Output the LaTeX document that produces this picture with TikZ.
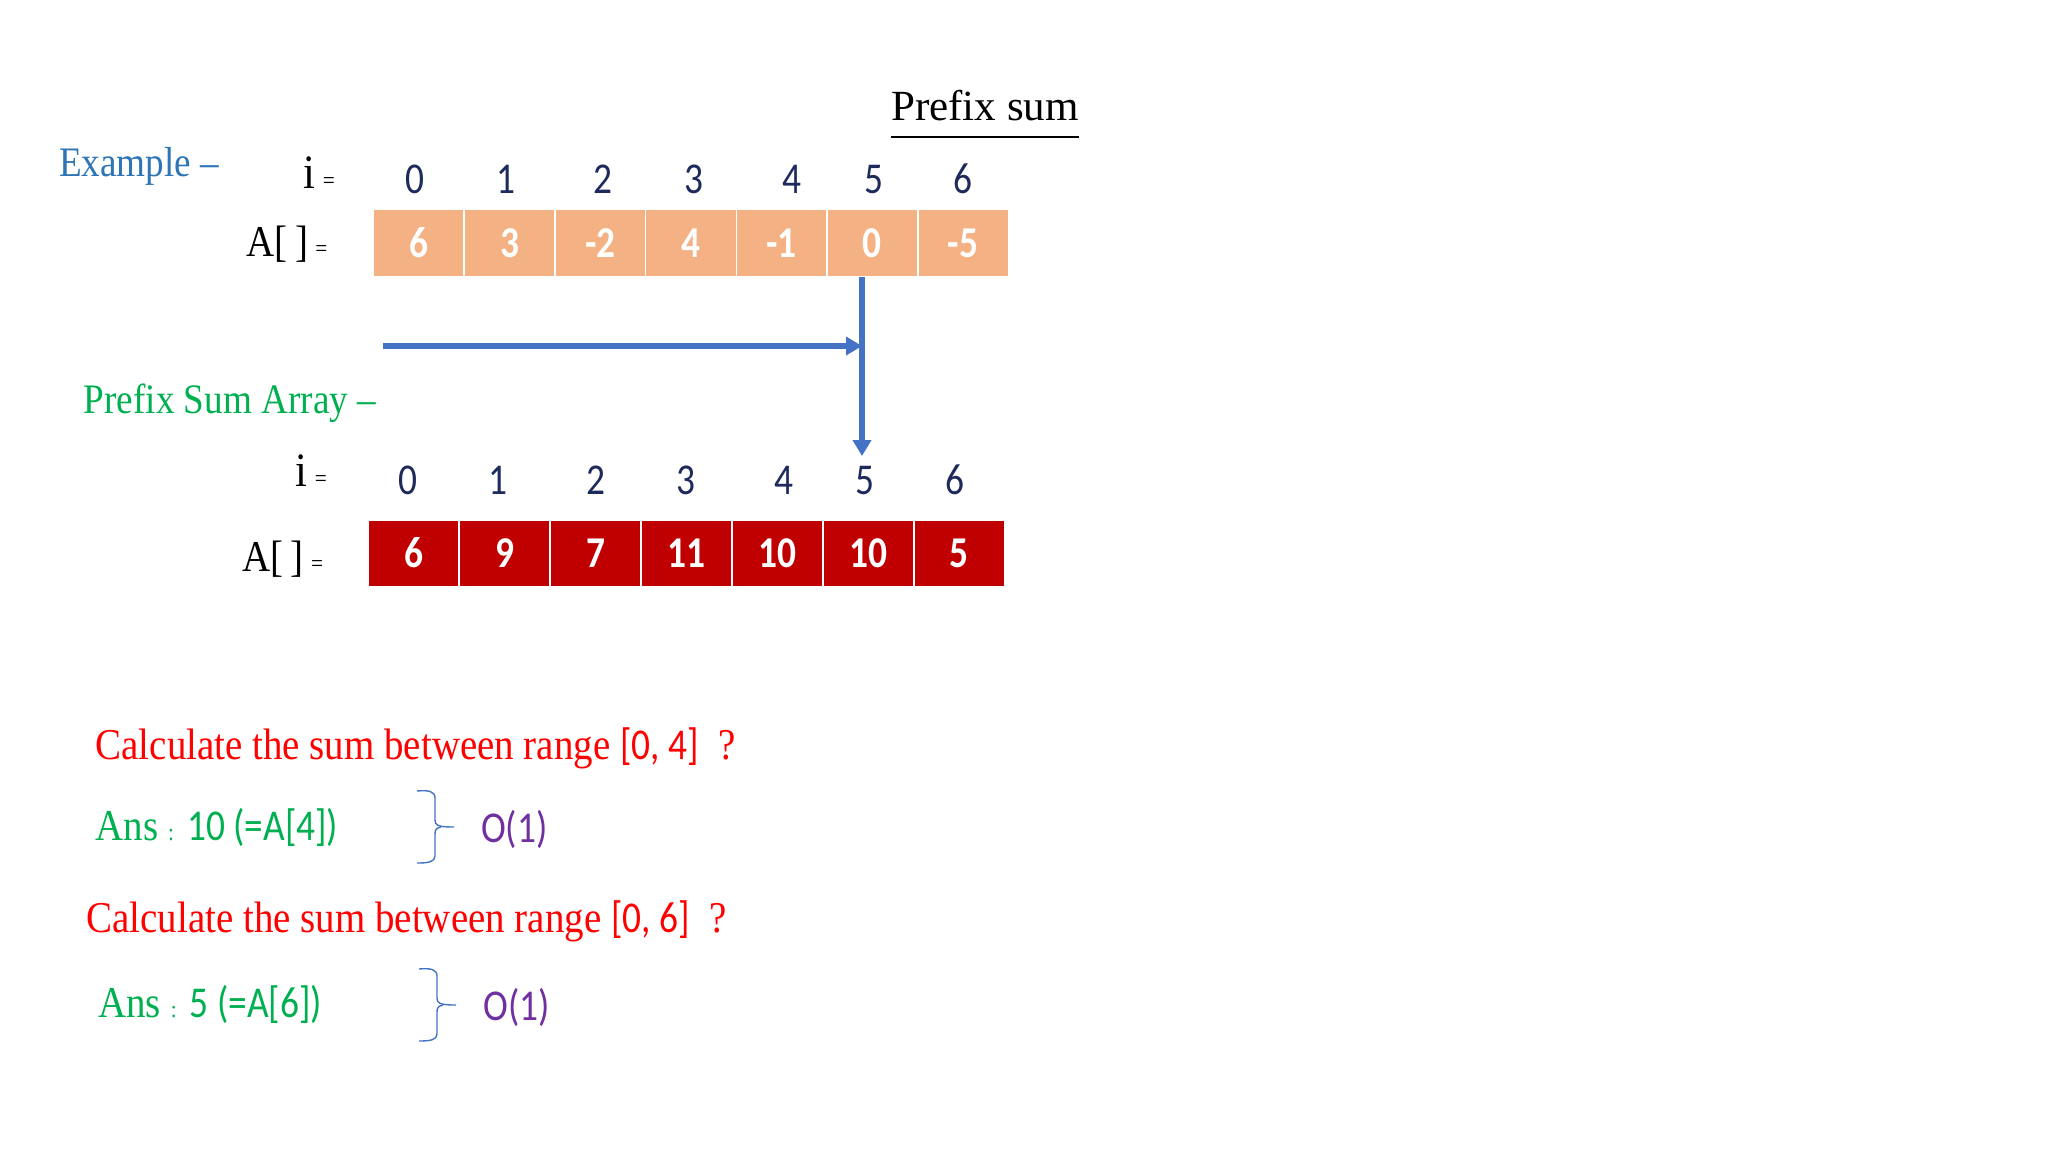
\documentclass[tikz,border=0pt]{standalone}
\usepackage{fontspec}
\setmainfont{Liberation Serif}[FakeStretch=0.885]
\newfontfamily\plainserif{Liberation Serif}
\newfontfamily\calib{Carlito}[FakeStretch=0.85]
\usetikzlibrary{arrows.meta}
\definecolor{exblue}{HTML}{2E75B6}
\definecolor{psgreen}{HTML}{00B050}
\definecolor{qred}{HTML}{FF0000}
\definecolor{opurple}{HTML}{7030A0}
\definecolor{cellorange}{HTML}{F4B183}
\definecolor{celldark}{HTML}{C00000}
\definecolor{idxblue}{HTML}{1F2A5C}
\definecolor{arrblue}{HTML}{4472C4}
\begin{document}
\begin{tikzpicture}[x=0.5pt,y=-0.5pt,
  lbl/.style={inner sep=0pt,font=\fontsize{20}{24}\selectfont},
  idx/.style={inner sep=0pt,anchor=base,text=idxblue,font=\calib\fontsize{22}{26}\selectfont},
  topcell/.style={draw=white,line width=0.8pt,fill=cellorange,minimum width=45.35pt,minimum height=34pt,inner sep=0pt,text=white,font=\calib\bfseries\fontsize{22}{26}\selectfont},
  botcell/.style={draw=white,line width=0.8pt,fill=celldark,minimum width=45.45pt,minimum height=33.3pt,inner sep=0pt,text=white,font=\calib\bfseries\fontsize{22}{26}\selectfont},
  bigarrow/.style={draw=arrblue,line width=2.6pt,-{Triangle[length=8pt,width=9pt]}},
  question/.style={inner sep=0pt,anchor=base west,text=qred,font=\fontsize{22}{26}\selectfont},
  answer/.style={inner sep=0pt,anchor=base west,text=psgreen,font=\fontsize{22}{26}\selectfont},
  order/.style={inner sep=0pt,anchor=base west,text=opurple,font=\calib\fontsize{22}{26}\selectfont},
  ocurly/.pic={
    \draw[arrblue,line width=0.7pt]
      (0,0) .. controls (11,-1) and (18,0) .. (18,7) -- (18,29)
      .. controls (18,34) and (20,36) .. (37,36);
    \draw[arrblue,line width=0.7pt]
      (24,36) .. controls (19,37) and (18,39) .. (18,43) -- (18,65)
      .. controls (18,71) and (11,72) .. (0,72);
  }
]
\useasboundingbox (0,0) rectangle (2048,1152);

% title
\node[inner sep=0pt,anchor=base,font=\plainserif\fontsize{21.5}{26}\selectfont] (title) at (985,120) {Prefix sum};
\draw[line width=1pt] (title.base west) ++(0,16.5) coordinate (ul1) -- (ul1 -| title.base east);

% example label
\node[lbl,anchor=base,text=exblue,font=\fontsize{21}{25}\selectfont] (example) at (139,176) {Example --};

% top index row
\node[lbl,anchor=base] (ti) at (319,188) {\fontsize{24}{28}\selectfont i\,{\fontsize{12}{14}\selectfont =}};
\foreach \v/\x [count=\k from 0] in {0/415.3,1/505.5,2/603.4,3/693.5,4/791.5,5/873.8,6/962.6}
  \node[idx] (ti\k) at (\x,193) {\v};

% top array
\node[lbl,anchor=base] (ta) at (287,256) {\fontsize{22}{26}\selectfont A[\,]\,{\fontsize{12}{14}\selectfont =}};
\foreach \v [count=\k from 0] in {6,3,-2,4,-1,0,-5}
  \node[topcell] (t\k) at ({373.5+90.7*(\k+0.5)},243) {\v};

% arrows
\coordinate (hs) at (382.7,346);
\coordinate (vs) at (862,277);
\coordinate (ve) at (862,456);
\draw[bigarrow] (hs) -- (hs -| vs);
\draw[bigarrow] (vs) -- (ve);

% prefix sum array label
\node[lbl,anchor=base,text=psgreen,font=\fontsize{21}{25}\selectfont] (psa) at (229.9,413) {Prefix Sum Array --};

% bottom index row
\node[lbl,anchor=base] (bi) at (311,486) {\fontsize{24}{28}\selectfont i\,{\fontsize{12}{14}\selectfont =}};
\foreach \v/\x [count=\k from 0] in {0/407.5,1/497.6,2/595.6,3/685.7,4/783.7,5/864.6,6/954.8}
  \node[idx] (bi\k) at (\x,494) {\v};

% bottom array
\node[lbl,anchor=base] (ba) at (282.8,571) {\fontsize{22}{26}\selectfont A[\,]\,{\fontsize{12}{14}\selectfont =}};
\foreach \v [count=\k from 0] in {6,9,7,11,10,10,5}
  \node[botcell] (b\k) at ({368.3+90.9*(\k+0.5)},553.1) {\v};

% questions and answers
\node[question] (q1) at (95.3,759) {Calculate the sum between range {\calib [0, 4]}\ \ ?};
\node[answer] (a1) at (95.3,840) {Ans {\fontsize{12}{14}\selectfont :} {\calib 10 (=A[4])}};
\pic at (417,791) {ocurly};
\node[order] (o1) at (480.6,842) {O(1)};

\node[question] (q2) at (86.2,932.5) {Calculate the sum between range {\calib [0, 6]}\ \ ?};
\node[answer] (a2) at (98,1017.5) {Ans {\fontsize{12}{14}\selectfont :} {\calib 5 (=A[6])}};
\pic at (419,969) {ocurly};
\node[order] (o2) at (483,1020) {O(1)};
\end{tikzpicture}
\end{document}
